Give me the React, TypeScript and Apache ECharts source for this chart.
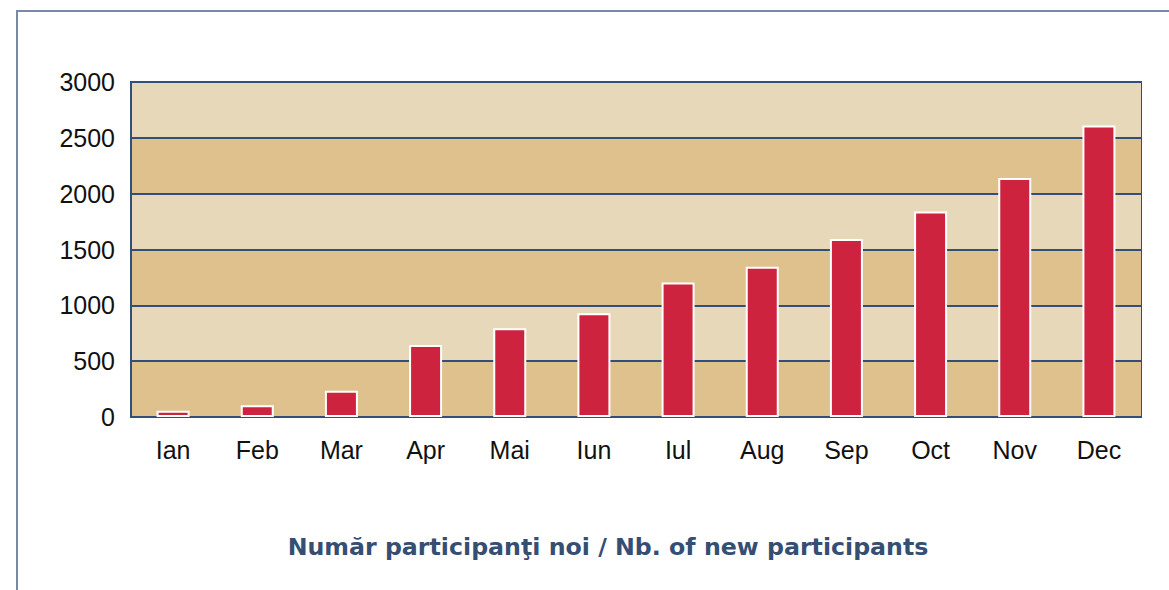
import React, { useEffect, useRef } from "react";
import * as echarts from "echarts";

const months = ["Ian", "Feb", "Mar", "Apr", "Mai", "Iun", "Iul", "Aug", "Sep", "Oct", "Nov", "Dec"];
const newParticipants = [55, 105, 235, 645, 795, 930, 1205, 1345, 1595, 1840, 2140, 2610];
const yMin = 0;
const yMax = 3000;
const yStep = 500;
const titleText = "Număr participanţi noi / Nb. of new participants";

export default function App() {
  const ref = useRef<HTMLDivElement>(null);
  useEffect(() => {
    if (!ref.current) return;
    const chart = echarts.init(ref.current, null, { renderer: "svg" });
    chart.setOption({
      animation: false,
      backgroundColor: "#ffffff",
      grid: {
        left: 131,
        top: 82,
        right: 28,
        bottom: 173,
        show: true,
        borderColor: "#30507a",
        borderWidth: 2,
        backgroundColor: "transparent",
      },
      xAxis: {
        type: "category",
        data: months,
        axisTick: { show: false },
        axisLine: { show: true, lineStyle: { color: "#30507a", width: 2 } },
        axisLabel: {
          color: "#111111",
          fontSize: 25,
          fontFamily: "Liberation Sans",
          margin: 20,
        },
      },
      yAxis: {
        type: "value",
        min: yMin,
        max: yMax,
        interval: yStep,
        axisTick: { show: false },
        axisLine: { show: true, lineStyle: { color: "#30507a", width: 2 } },
        axisLabel: {
          color: "#111111",
          fontSize: 25,
          fontFamily: "Liberation Sans",
          margin: 16,
          verticalAlign: "middle",
          padding: [0, 0, 9, 0],
          formatter: (v: number) => String(v),
        },
        splitLine: { show: true, lineStyle: { color: "#30507a", width: 2 } },
        splitArea: { show: true, areaStyle: { color: ["#dec18d", "#e8d8ba"] } },
      },
      series: [
        {
          type: "bar",
          data: newParticipants,
          barWidth: 33,
          itemStyle: { color: "#ce233f", borderColor: "#ffffff", borderWidth: 2 },
        },
      ],
      graphic: [
        {
          type: "rect",
          shape: { x: 17, y: 11, width: 1300, height: 800 },
          style: { fill: "none", stroke: "#7a8aa6", lineWidth: 2 },
          silent: true,
        },
        {
          type: "text",
          x: 608,
          y: 547,
          style: {
            text: titleText,
            fill: "#344e74",
            font: "bold 23.7px 'DejaVu Sans', sans-serif",
            textAlign: "center",
            textVerticalAlign: "middle",
          },
        },
      ],
    });
    return () => chart.dispose();
  }, []);
  return (
    <div
      ref={ref}
      style={{ position: "fixed", left: 0, top: 0, width: 1169, height: 590 }}
    />
  );
}
